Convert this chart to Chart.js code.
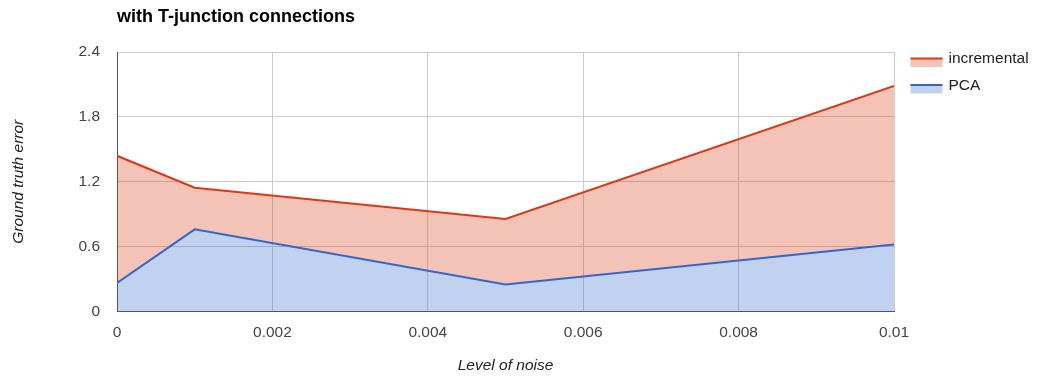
<!DOCTYPE html>
<html>
<head>
<meta charset="utf-8">
<script src="https://cdn.jsdelivr.net/npm/chart.js@4"></script>
<style>
  html, body { margin: 0; padding: 0; background: #ffffff; }
  #wrap { width: 1045px; height: 378px; position: relative; }
</style>
</head>
<body>
<div id="wrap"><canvas id="c" width="1045" height="378"></canvas></div>
<script>
// Noise levels tested and the resulting ground-truth error of each method
const noiseLevels = [0, 0.001, 0.005, 0.01];
const incrementalError = [1.44, 1.145, 0.855, 2.085];
const pcaError = [0.265, 0.76, 0.25, 0.62];

const seriesNames = ['incremental', 'PCA'];
const xTickValues = [0, 0.002, 0.004, 0.006, 0.008, 0.01];
const yTickValues = [0, 0.6, 1.2, 1.8, 2.4];

const chartTitle = 'with T-junction connections';
const xAxisTitle = 'Level of noise';
const yAxisTitle = 'Ground truth error';

const FONT = '"Liberation Sans", Arial, sans-serif';
const TEXT_SIZE = 15.5;
const RED = '#dc3912';
const BLUE = '#3366cc';
const RED_FILL = 'rgba(220,57,18,0.3)';
const BLUE_FILL = 'rgba(51,102,204,0.3)';

const toPoints = ys => noiseLevels.map((x, i) => ({ x: x, y: ys[i] }));

// Title above the plot and the legend on the right
const decorations = {
  id: 'decorations',
  afterDraw(chart) {
    const ctx = chart.ctx;
    const area = chart.chartArea;
    ctx.save();
    ctx.fillStyle = '#000000';
    ctx.font = 'bold 18px ' + FONT;
    ctx.textAlign = 'left';
    ctx.textBaseline = 'middle';
    ctx.fillText(chartTitle, area.left, 17);

    const items = [
      { name: seriesNames[0], line: RED, fill: RED_FILL },
      { name: seriesNames[1], line: BLUE, fill: BLUE_FILL }
    ];
    const x0 = area.right + 16.5;
    items.forEach((it, i) => {
      const cy = 58.5 + i * 26.5;
      ctx.fillStyle = it.fill;
      ctx.fillRect(x0, cy, 32, 8.5);
      ctx.strokeStyle = it.line;
      ctx.lineWidth = 2;
      ctx.beginPath();
      ctx.moveTo(x0, cy);
      ctx.lineTo(x0 + 32, cy);
      ctx.stroke();
      ctx.fillStyle = '#222222';
      ctx.font = TEXT_SIZE + 'px ' + FONT;
      ctx.textBaseline = 'middle';
      ctx.fillText(it.name, x0 + 38, cy + 0.5);
    });
    ctx.restore();
  }
};

new Chart(document.getElementById('c'), {
  type: 'line',
  data: {
    datasets: [
      {
        label: seriesNames[0],
        data: toPoints(incrementalError),
        borderColor: RED,
        backgroundColor: RED_FILL,
        borderWidth: 2,
        pointRadius: 0,
        tension: 0,
        fill: '+1',
        order: 1
      },
      {
        label: seriesNames[1],
        data: toPoints(pcaError),
        borderColor: BLUE,
        backgroundColor: BLUE_FILL,
        borderWidth: 2,
        pointRadius: 0,
        tension: 0,
        fill: 'origin',
        order: 0
      }
    ]
  },
  options: {
    responsive: false,
    devicePixelRatio: 1,
    animation: false,
    layout: { padding: { left: 9, top: 52, right: 151, bottom: 2.7 } },
    plugins: {
      legend: { display: false },
      title: { display: false },
      tooltip: { enabled: false }
    },
    scales: {
      x: {
        type: 'linear',
        min: 0,
        max: 0.01,
        afterBuildTicks: s => { s.ticks = xTickValues.map(v => ({ value: v })); },
        afterFit: s => { s.height = 63.8; },
        ticks: {
          padding: 12,
          color: '#444444',
          font: { family: FONT, size: TEXT_SIZE },
          callback: v => String(v)
        },
        grid: { color: '#cccccc', drawTicks: false },
        border: { color: '#555555', width: 1 },
        title: {
          display: true,
          text: xAxisTitle,
          color: '#222222',
          padding: 0,
          font: { family: FONT, size: TEXT_SIZE, style: 'italic' }
        }
      },
      y: {
        min: 0,
        max: 2.4,
        afterBuildTicks: s => { s.ticks = yTickValues.map(v => ({ value: v })); },
        afterFit: s => { s.width = 108; },
        ticks: {
          padding: 17,
          color: '#444444',
          font: { family: FONT, size: TEXT_SIZE },
          callback: v => String(v)
        },
        grid: { color: '#cccccc', drawTicks: false },
        border: { color: '#555555', width: 1 },
        title: {
          display: true,
          text: yAxisTitle,
          color: '#222222',
          padding: 0,
          font: { family: FONT, size: TEXT_SIZE, style: 'italic' }
        }
      }
    }
  },
  plugins: [decorations]
});
</script>
</body>
</html>
